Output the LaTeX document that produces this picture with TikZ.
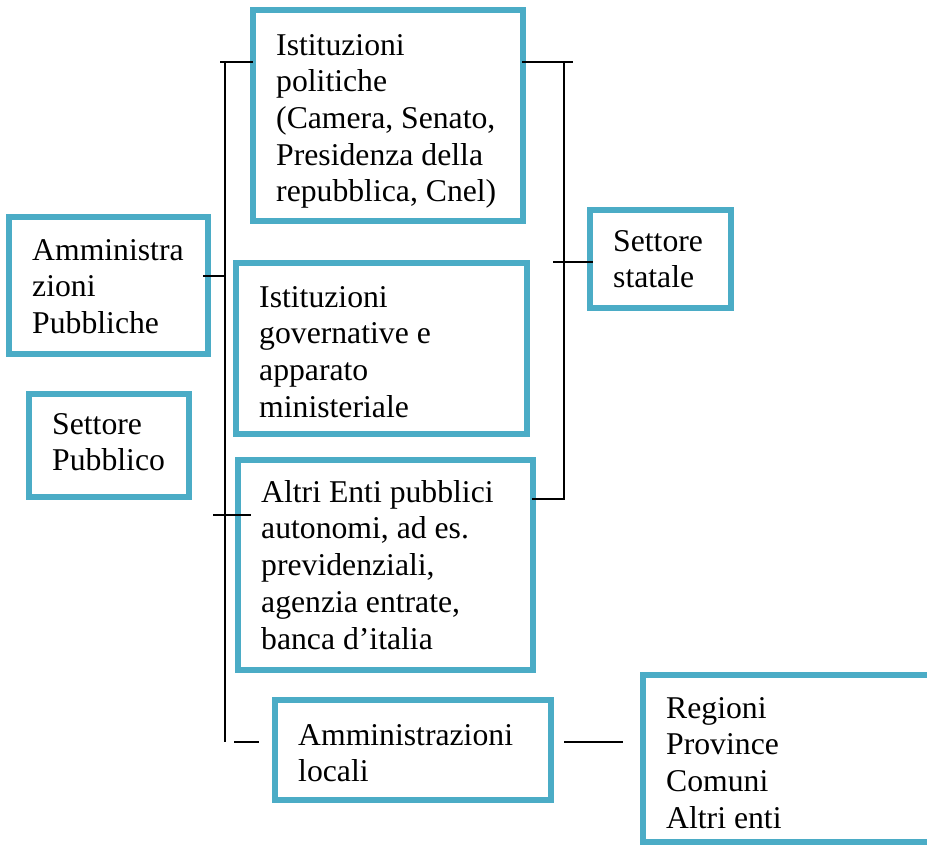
\documentclass[tikz,border=0pt]{standalone}
\usepackage{fontspec}
\setmainfont{Liberation Serif}
\usepackage{tikz}
\usetikzlibrary{positioning, calc}
\definecolor{box-blue}{RGB}{75,172,198}

\begin{document}
\begin{tikzpicture}[
    x=1pt, y=-1pt,
    box/.style={rectangle, draw=box-blue, line width=6.5pt, outer sep=0pt, inner sep=0pt, anchor=north west},
    txt/.style={inner sep=0pt, anchor=north west, align=left, font=\fontsize{31.7}{36.7}\selectfont},
    link/.style={draw=black, line width=2pt},
]
\clip (0,0) rectangle (927,847);

% Boxes
\node[box, minimum width=270pt, minimum height=211pt] (politiche) at (253,10) {};
\node[box, minimum width=199pt, minimum height=137pt] (ammpub) at (9,217) {};
\node[box, minimum width=291pt, minimum height=171pt] (governative) at (236,263) {};
\node[box, minimum width=141pt, minimum height=98pt] (statale) at (590,210) {};
\node[box, minimum width=160pt, minimum height=103pt] (pubblico) at (29,394) {};
\node[box, minimum width=295pt, minimum height=210pt] (altrienti) at (238,460) {};
\node[box, minimum width=276pt, minimum height=100pt] (locali) at (275,700) {};
\node[box, minimum width=300pt, minimum height=167pt] (regioni) at (643,675) {};

% Texts
\node[txt] (politicheT) at ([xshift=23pt, yshift=-24pt]politiche.north west) {Istituzioni\\politiche\\(Camera, Senato,\\Presidenza della\\repubblica, Cnel)};
\node[txt] (ammpubT) at ([xshift=23pt, yshift=-22pt]ammpub.north west) {Amministra\\zioni\\Pubbliche};
\node[txt] (governativeT) at ([xshift=23pt, yshift=-23pt]governative.north west) {Istituzioni\\governative e\\apparato\\ministeriale};
\node[txt] (stataleT) at ([xshift=23pt, yshift=-20pt]statale.north west) {Settore\\statale};
\node[txt] (pubblicoT) at ([xshift=23pt, yshift=-19pt]pubblico.north west) {Settore\\Pubblico};
\node[txt] (altrientiT) at ([xshift=23pt, yshift=-20pt]altrienti.north west) {Altri Enti pubblici\\autonomi, ad es.\\previdenziali,\\agenzia entrate,\\banca d’italia};
\node[txt] (localiT) at ([xshift=23pt, yshift=-24pt]locali.north west) {Amministrazioni\\locali};
\node[txt] (regioniT) at ([xshift=23pt, yshift=-22pt]regioni.north west) {Regioni\\Province\\Comuni\\Altri enti};

% Left bracket
\coordinate (lTop) at (225,62);
\coordinate (lBot) at (225,742);
\coordinate (lStart) at (220,62);
\coordinate (aTick) at (203,276);
\coordinate (eTickL) at (213,515);
\coordinate (eTickR) at (251,515);
\coordinate (bTickL) at (234,742);
\coordinate (bTickR) at (259,742);
\draw[link] (lStart) -- (lStart -| politiche.west);
\draw[link] (lTop) -- (lBot);
\draw[link] (aTick) -- (aTick -| lTop);
\draw[link] (eTickL) -- (eTickR);
\draw[link] (bTickL) -- (bTickR);

% Right bracket
\coordinate (rTop) at (564,62);
\coordinate (rBot) at (564,499);
\coordinate (rStart) at (522,62);
\coordinate (rEnd) at (573,62);
\coordinate (sTickL) at (553,262);
\coordinate (sTickR) at (593,262);
\draw[link] (rStart) -- (rEnd);
\draw[link] (rTop) -- (rBot) -- (rBot -| 532,0);
\draw[link] (sTickL) -- (sTickR);

% Locali to regioni
\coordinate (gL) at (564,742);
\coordinate (gR) at (623,742);
\draw[link] (gL) -- (gR);

\end{tikzpicture}
\end{document}
